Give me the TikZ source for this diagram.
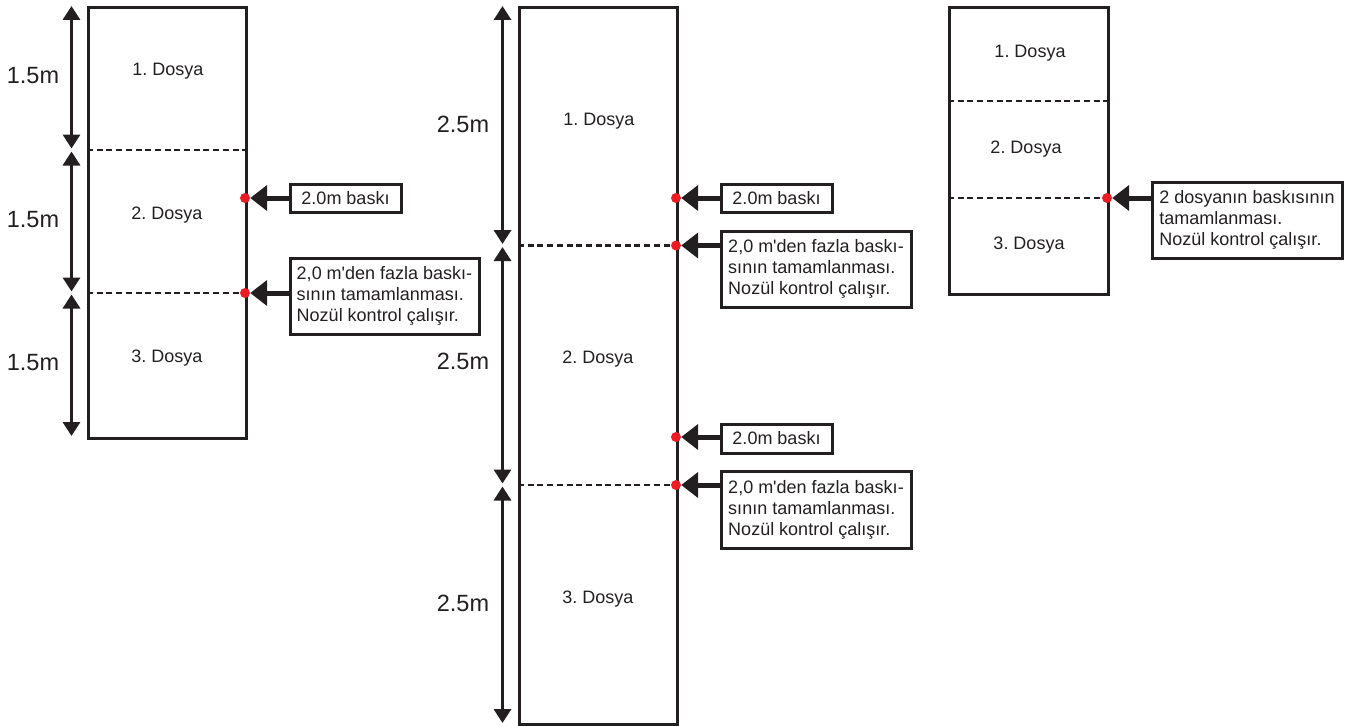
\documentclass[tikz,border=0pt]{standalone}
\usepackage{fontspec}
\setmainfont{Liberation Sans}
\usetikzlibrary{arrows.meta}
\definecolor{ink}{HTML}{231F20}
\definecolor{dotred}{HTML}{ED1C24}
\frenchspacing
\begin{document}
\frenchspacing
\begin{tikzpicture}[x=1pt,y=-1pt,
  frame/.style={draw=ink, line width=2.8pt, inner sep=0pt, anchor=north west},
  divline/.style={draw=ink, line width=2.2pt, dash pattern=on 6pt off 3.7pt},
  dimarrow/.style={draw=ink, line width=3.3pt, {Triangle[length=14pt,width=17pt]}-{Triangle[length=14pt,width=17pt]}},
  dimlabel/.style={text=ink, font=\fontsize{23.5}{28}\selectfont, inner sep=0pt},
  filelabel/.style={text=ink, font=\fontsize{18}{21}\selectfont, inner sep=0pt},
  reddot/.style={circle, fill=dotred, inner sep=0pt, minimum size=10pt},
  callout/.style={draw=ink, line width=3pt, text=ink, align=left, inner sep=0pt, anchor=north west, font=\fontsize{18}{21}\selectfont},
  callarrow/.style={draw=ink, line width=5pt, -{Triangle[length=17pt,width=25pt]}}
]
\useasboundingbox (0,0) rectangle (1359,725);

% ---------------- Left diagram ----------------
\node[frame, minimum width=158pt, minimum height=431pt] (L) at (87,6) {};
\coordinate (L1a) at (87,150); \coordinate (L1b) at (245,150);
\coordinate (L2a) at (87,293); \coordinate (L2b) at (245,293);
\draw[divline] (L1a) -- (L1b);
\draw[divline] (L2a) -- (L2b);
\coordinate (Ld0) at (71.5,6); \coordinate (Ld1) at (71.5,148.5);
\coordinate (Ld2) at (71.5,151.5); \coordinate (Ld3) at (71.5,291.5);
\coordinate (Ld4) at (71.5,294.5); \coordinate (Ld5) at (71.5,436);
\draw[dimarrow] (Ld0) -- (Ld1);
\draw[dimarrow] (Ld2) -- (Ld3);
\draw[dimarrow] (Ld4) -- (Ld5);
\node[dimlabel] (Lm1) at (33,76) {1.5m};
\node[dimlabel] (Lm2) at (33,220) {1.5m};
\node[dimlabel] (Lm3) at (33,363) {1.5m};
\node[filelabel] (Lf1) at (168,71) {1. Dosya};
\node[filelabel] (Lf2) at (167,215) {2. Dosya};
\node[filelabel] (Lf3) at (167,358) {3. Dosya};
\node[callout, align=center, minimum width=111pt, minimum height=28pt] (A1) at (288.5,182.5) {2.0m baskı};
\node[callout, minimum width=189pt, minimum height=76pt] (A2) at (288.5,256.5) {2,0 m\textquotesingle den fazla baskı-\\sının tamamlanması.\\Nozül kontrol çalışır.};
\node[reddot] (dL1) at (245,198) {};
\node[reddot] (dL2) at (245,293) {};
\draw[callarrow] (A1.west |- dL1) -- (dL1.east);
\draw[callarrow] (A2.west |- dL2) -- (dL2.east);

% ---------------- Middle diagram ----------------
\node[frame, minimum width=158pt, minimum height=717pt] (M) at (518,6) {};
\coordinate (M1a) at (518,245.5); \coordinate (M1b) at (676,245.5);
\coordinate (M2a) at (518,485); \coordinate (M2b) at (676,485);
\draw[divline] (M1a) -- (M1b);
\draw[divline] (M2a) -- (M2b);
\coordinate (Md0) at (502.5,6); \coordinate (Md1) at (502.5,244);
\coordinate (Md2) at (502.5,247); \coordinate (Md3) at (502.5,483.5);
\coordinate (Md4) at (502.5,486.5); \coordinate (Md5) at (502.5,723);
\draw[dimarrow] (Md0) -- (Md1);
\draw[dimarrow] (Md2) -- (Md3);
\draw[dimarrow] (Md4) -- (Md5);
\node[dimlabel] (Mm1) at (463,124) {2.5m};
\node[dimlabel] (Mm2) at (463,361) {2.5m};
\node[dimlabel] (Mm3) at (463,603) {2.5m};
\node[filelabel] (Mf1) at (599,121) {1. Dosya};
\node[filelabel] (Mf2) at (598,359) {2. Dosya};
\node[filelabel] (Mf3) at (598,599) {3. Dosya};
\node[callout, align=center, minimum width=111pt, minimum height=28pt] (B1) at (719.5,182.5) {2.0m baskı};
\node[callout, minimum width=190pt, minimum height=76pt] (B2) at (719.5,229.5) {2,0 m\textquotesingle den fazla baskı-\\sının tamamlanması.\\Nozül kontrol çalışır.};
\node[callout, align=center, minimum width=111pt, minimum height=29pt] (B3) at (719.5,422.5) {2.0m baskı};
\node[callout, minimum width=190pt, minimum height=77pt] (B4) at (719.5,469.5) {2,0 m\textquotesingle den fazla baskı-\\sının tamamlanması.\\Nozül kontrol çalışır.};
\node[reddot] (dM1) at (676,198) {};
\node[reddot] (dM2) at (676,245.5) {};
\node[reddot] (dM3) at (676,437) {};
\node[reddot] (dM4) at (676,485) {};
\draw[callarrow] (B1.west |- dM1) -- (dM1.east);
\draw[callarrow] (B2.west |- dM2) -- (dM2.east);
\draw[callarrow] (B3.west |- dM3) -- (dM3.east);
\draw[callarrow] (B4.west |- dM4) -- (dM4.east);

% ---------------- Right diagram ----------------
\node[frame, minimum width=159pt, minimum height=287pt] (R) at (948,6) {};
\coordinate (R1a) at (948,101); \coordinate (R1b) at (1107,101);
\coordinate (R2a) at (948,198); \coordinate (R2b) at (1107,198);
\draw[divline] (R1a) -- (R1b);
\draw[divline] (R2a) -- (R2b);
\node[filelabel] (Rf1) at (1030,53) {1. Dosya};
\node[filelabel] (Rf2) at (1026,149) {2. Dosya};
\node[filelabel] (Rf3) at (1029,245) {3. Dosya};
\node[callout, minimum width=190pt, minimum height=76pt] (C) at (1150.5,180.5) {2 dosyanın baskısının\\tamamlanması.\\Nozül kontrol çalışır.};
\node[reddot] (dR) at (1107,198) {};
\draw[callarrow] (C.west |- dR) -- (dR.east);
\end{tikzpicture}
\end{document}
